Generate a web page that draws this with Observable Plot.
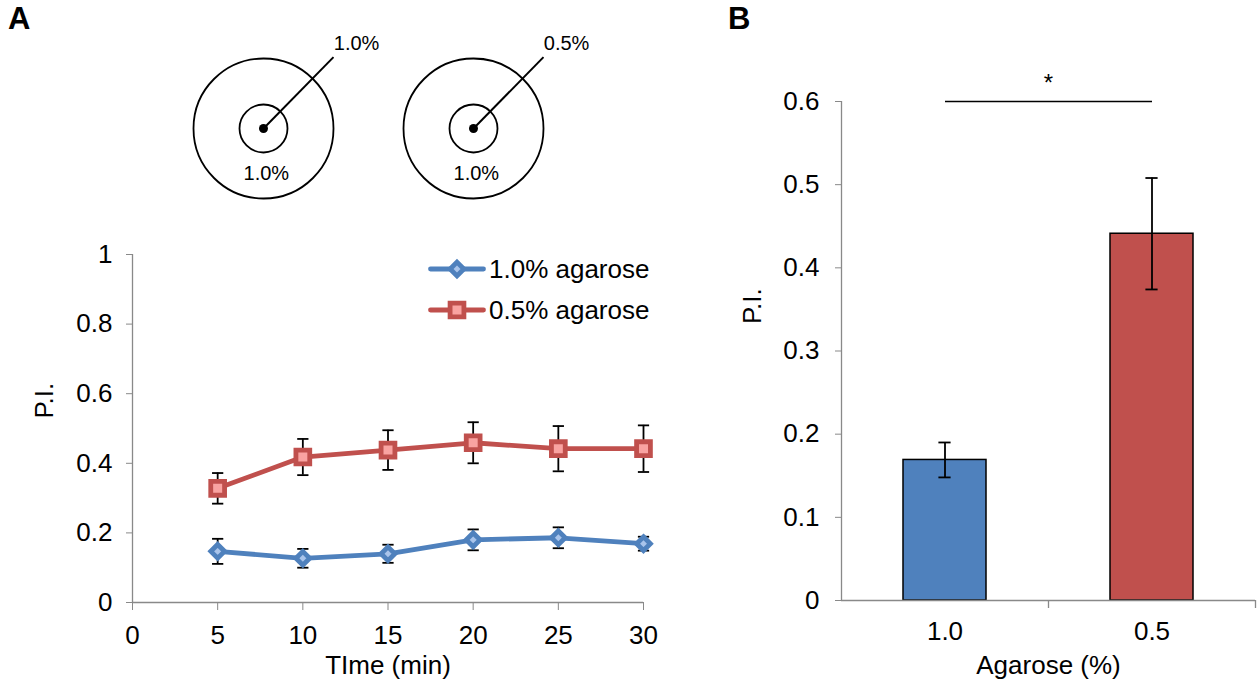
<!DOCTYPE html>
<html><head><meta charset="utf-8">
<script src="https://cdn.jsdelivr.net/npm/d3@7"></script>
<script src="https://cdn.jsdelivr.net/npm/@observablehq/plot@0.6"></script>
<style>
html,body{margin:0;padding:0;background:#fff;}
#root{position:relative;width:1257px;height:690px;overflow:hidden;font-family:"Liberation Sans",Arial,sans-serif;color:#000;}
.abs{position:absolute;}
.letter{font-weight:bold;font-size:31px;line-height:1;}
.legrow{display:flex;align-items:center;height:28px;white-space:nowrap;}
.legrow span{font-size:26px;line-height:28px;margin-left:3px;}
</style></head><body><div id="root"></div>
<script>
// ---------- data ----------
const times = [5, 10, 15, 20, 25, 30];
const seriesNames = ["1.0% agarose", "0.5% agarose"];
const pi10 = [0.147, 0.127, 0.140, 0.180, 0.186, 0.169];
const err10 = [0.036, 0.027, 0.026, 0.030, 0.030, 0.020];
const pi05 = [0.328, 0.418, 0.438, 0.459, 0.442, 0.442];
const err05 = [0.044, 0.052, 0.057, 0.059, 0.065, 0.067];
const xTicksA = [0, 5, 10, 15, 20, 25, 30];
const yTicksA = [0, 0.2, 0.4, 0.6, 0.8, 1];

const barCats = ["1.0", "0.5"];
const barVals = [0.169, 0.441];
const barErr = [0.021, 0.067];
const yTicksB = [0, 0.1, 0.2, 0.3, 0.4, 0.5, 0.6];
const sigLevel = 0.6;

const dishOuter = ["1.0%", "0.5%"];
const dishInner = ["1.0%", "1.0%"];

// ---------- styles ----------
const FONT = '"Liberation Sans", Arial, sans-serif';
const FS = 26;
const GRAY = "#898989";
const lineColors = ["#4F81BD", "#C0504D"];
const markerFills = ["#A9C4EB", "#F9A3A1"];
const symbols = ["diamond2", "square"];
const symbolR = [6.2, 7.8];

const root = document.getElementById("root");
function place(el, left, top) {
  const d = document.createElement("div");
  d.className = "abs"; d.style.left = left + "px"; d.style.top = top + "px";
  d.appendChild(el); root.appendChild(d); return d;
}

// ---------- Panel A line chart ----------
const vals = [pi10, pi05], errs = [err10, err05];
const rowsA = seriesNames.map((s, k) => times.map((t, i) => ({series: s, k, t, v: vals[k][i], e: errs[k][i]})));
const capHalf = 0.33;

const marksA = [
  Plot.ruleX([0], {stroke: GRAY, strokeWidth: 1.3}),
  Plot.ruleY([0], {stroke: GRAY, strokeWidth: 1.3}),
  Plot.axisY({ticks: yTicksA, tickFormat: d => String(d), tickSize: 6, tickPadding: 14, stroke: GRAY, fill: "black", fontSize: FS, label: null}),
  Plot.axisX({ticks: xTicksA, tickFormat: d => String(d), tickSize: 8, tickPadding: 15, stroke: GRAY, fill: "black", fontSize: FS, label: null}),
  Plot.text(["TIme (min)"], {text: d => d, frameAnchor: "bottom", dy: 71, fontSize: FS}),
  Plot.text(["P.I."], {text: d => d, frameAnchor: "left", dx: -88, dy: -10, rotate: -90, fontSize: FS})
];
rowsA.forEach((rows, k) => {
  marksA.push(Plot.line(rows, {x: "t", y: "v", stroke: lineColors[k], strokeWidth: 4.8}));
});
rowsA.forEach((rows) => {
  marksA.push(
    Plot.ruleX(rows, {x: "t", y1: d => d.v - d.e, y2: d => d.v + d.e, stroke: "black", strokeWidth: 1.8}),
    Plot.link(rows, {x1: d => d.t - capHalf, x2: d => d.t + capHalf, y1: d => d.v + d.e, y2: d => d.v + d.e, stroke: "black", strokeWidth: 1.8}),
    Plot.link(rows, {x1: d => d.t - capHalf, x2: d => d.t + capHalf, y1: d => d.v - d.e, y2: d => d.v - d.e, stroke: "black", strokeWidth: 1.8})
  );
});
rowsA.forEach((rows, k) => {
  marksA.push(Plot.dot(rows, {x: "t", y: "v", symbol: symbols[k], r: symbolR[k], fill: markerFills[k], stroke: lineColors[k], strokeWidth: 4.8}));
});

const plotA = Plot.plot({
  width: 680, height: 690,
  marginLeft: 132, marginRight: 37, marginTop: 254, marginBottom: 88,
  style: {fontFamily: FONT, fontSize: FS + "px", color: "black", background: "transparent", overflow: "visible"},
  x: {domain: [0, 30]},
  y: {domain: [0, 1]},
  marks: marksA
});
place(plotA, 0, 0);

// ---------- Panel A schematic (two dishes) ----------
const dishR = 70; // px radius of outer ring
const dishes = dishOuter.map((o, i) => ({outer: o, inner: dishInner[i], c: i * 3}));
const schem = Plot.plot({
  width: 680, height: 256, margin: 0,
  style: {fontFamily: FONT, background: "transparent", overflow: "visible"},
  x: {domain: [-263 / dishR, (680 - 263) / dishR], axis: null},
  y: {domain: [-128 / dishR, 128 / dishR], axis: null},
  marks: [
    Plot.dot(dishes, {x: "c", y: () => 0, r: dishR, fill: "none", stroke: "black", strokeWidth: 1.8}),
    Plot.dot(dishes, {x: "c", y: () => 0, r: 24, fill: "none", stroke: "black", strokeWidth: 1.8}),
    Plot.dot(dishes, {x: "c", y: () => 0, r: 4.5, fill: "black", stroke: "none"}),
    Plot.link(dishes, {x1: "c", y1: () => 0, x2: d => d.c + 1, y2: () => 1.02, stroke: "black", strokeWidth: 2}),
    Plot.text(dishes, {x: d => d.c + 1.33, y: () => 1.22, text: "outer", fontSize: 20}),
    Plot.text(dishes, {x: d => d.c + 0.04, y: () => -0.64, text: "inner", fontSize: 20})
  ]
});
place(schem, 0, 0);

// ---------- Legend ----------
seriesNames.forEach((name, k) => {
  const row = document.createElement("div");
  row.className = "legrow";
  const ns = "http://www.w3.org/2000/svg";
  const svg = document.createElementNS(ns, "svg");
  svg.setAttribute("width", 58); svg.setAttribute("height", 28);
  const ln = document.createElementNS(ns, "line");
  ln.setAttribute("x1", 2.5); ln.setAttribute("x2", 55.5); ln.setAttribute("y1", 14); ln.setAttribute("y2", 14);
  ln.setAttribute("stroke", lineColors[k]); ln.setAttribute("stroke-width", 4.8); ln.setAttribute("stroke-linecap", "round");
  svg.appendChild(ln);
  const mk = document.createElementNS(ns, "path");
  const sym = k === 0 ? d3.symbolDiamond2 : d3.symbolSquare;
  mk.setAttribute("d", d3.symbol(sym, Math.PI * symbolR[k] * symbolR[k])());
  mk.setAttribute("transform", "translate(29,14)");
  mk.setAttribute("fill", markerFills[k]); mk.setAttribute("stroke", lineColors[k]); mk.setAttribute("stroke-width", 4.8);
  svg.appendChild(mk);
  row.appendChild(svg);
  const sp = document.createElement("span"); sp.textContent = name; row.appendChild(sp);
  place(row, 428, 255 + k * 41);
});

// ---------- Panel B bar chart ----------
const bW = 557, bML = 141, bMR = 2, padIn = 0.6, padOut = 0.3;
const stepB = (bW - bML - bMR) / (barCats.length - padIn + 2 * padOut);
const bars = barCats.map((c, i) => ({cat: c, v: barVals[i], e: barErr[i], fill: lineColors[i]}));
const capInset = (stepB * (1 - padIn) - 12) / 2;

const plotB = Plot.plot({
  width: bW, height: 690,
  marginLeft: bML, marginRight: bMR, marginTop: 101, marginBottom: 90,
  style: {fontFamily: FONT, fontSize: FS + "px", color: "black", background: "transparent", overflow: "visible"},
  x: {type: "band", domain: barCats, paddingInner: padIn, paddingOuter: padOut},
  y: {domain: [0, 0.6]},
  color: {type: "identity"},
  marks: [
    Plot.barY(bars, {x: "cat", y: "v", fill: "fill", stroke: "black", strokeWidth: 1.5}),
    Plot.ruleY([0], {stroke: GRAY, strokeWidth: 1.3}),
    Plot.ruleX([barCats[0]], {x: d => d, dx: -stepB / 2, y1: () => 0, y2: () => yTicksB[yTicksB.length - 1], stroke: GRAY, strokeWidth: 1.3}),
    Plot.ruleX(barCats, {x: d => d, dx: stepB / 2, y1: () => 0, y2: () => 0, insetBottom: -8, stroke: GRAY, strokeWidth: 1.3}),
    Plot.axisY({ticks: yTicksB, tickFormat: d => d === 0 ? "0" : d.toFixed(1), tickSize: 6, tickPadding: 16, stroke: GRAY, fill: "black", fontSize: FS, label: null}),
    Plot.axisX({tickSize: 0, tickPadding: 21, fill: "black", fontSize: FS, label: null}),
    Plot.ruleX(bars, {x: "cat", y1: d => d.v - d.e, y2: d => d.v + d.e, stroke: "black", strokeWidth: 1.8}),
    Plot.tickY(bars, {x: "cat", y: d => d.v + d.e, insetLeft: capInset, insetRight: capInset, stroke: "black", strokeWidth: 1.8}),
    Plot.tickY(bars, {x: "cat", y: d => d.v - d.e, insetLeft: capInset, insetRight: capInset, stroke: "black", strokeWidth: 1.8}),
    Plot.link([sigLevel], {x1: () => barCats[0], x2: () => barCats[1], y1: d => d, y2: d => d, stroke: "black", strokeWidth: 1.5}),
    Plot.text(["*"], {text: d => d, frameAnchor: "top", dy: -28, fontSize: 24}),
    Plot.text(["Agarose (%)"], {text: d => d, frameAnchor: "bottom", dy: 73, fontSize: FS}),
    Plot.text(["P.I."], {text: d => d, frameAnchor: "left", dx: -89, dy: -27, rotate: -90, fontSize: FS})
  ]
});
place(plotB, 700, 0);

// ---------- panel letters ----------
const la = document.createElement("div"); la.className = "letter"; la.textContent = "A"; place(la, 8, 3);
const lb = document.createElement("div"); lb.className = "letter"; lb.textContent = "B"; place(lb, 728, 3);
</script></body></html>
